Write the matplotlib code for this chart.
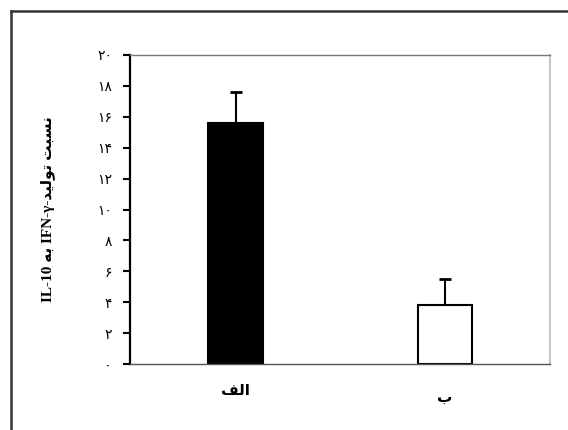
import matplotlib
matplotlib.use("Agg")
import matplotlib.pyplot as plt
from matplotlib.lines import Line2D

# ---- data ----
categories = ["\uFED2\uFEDF\uFE8D", "\uFE8F"]          # الف , ب  (visual order, presentation forms)
values = [15.6, 3.8]
errors = [2.0, 1.7]
yticks = [0, 2, 4, 6, 8, 10, 12, 14, 16, 18, 20]
persian_digits = "۰۱۲۳۴۵۶۷۸۹"
ytick_labels = ["".join(persian_digits[int(c)] for c in str(v)) for v in yticks]
ylabel = "IL-10 \uFEEA\uFE91 IFN-γ-\uFEAA\uFEF4\uFEDF\uFEEE\uFE97 \uFE96\uFE92\uFEB4\uFEE7"

fig = plt.figure(figsize=(5.68, 4.30), dpi=100)
ax = fig.add_axes([130/568, 1-364/430, 420/568, 309/430])

x = list(range(len(categories)))
face = ["black", "white"]
ax.bar(x, values, width=0.26, color=face, edgecolor="black", linewidth=1.5, zorder=2)
ax.errorbar(x, values, yerr=[[0, 0], errors], fmt="none", ecolor="black",
            elinewidth=1.5, capsize=4.5, capthick=2, zorder=1)

ax.set_xlim(-0.505, 1.502)
ax.set_ylim(0, 20)
ax.set_yticks(yticks)
ax.set_yticklabels(ytick_labels, family=["DejaVu Sans"], fontsize=10)
ax.set_xticks(x)
ax.set_xticklabels(categories, family=["DejaVu Sans"], fontsize=11, fontweight="bold")
ax.tick_params(axis="x", length=0, pad=14)
ax.tick_params(axis="y", length=5, width=1.5, direction="out", pad=8)

# second category label sits a bit lower in the reference
ax.get_xticklabels()[1].set_y(-0.02)

ax.spines["left"].set_linewidth(1.6)
ax.spines["left"].set_color("black")
ax.spines["bottom"].set_color("#555555")
ax.spines["bottom"].set_linewidth(1.0)
ax.spines["top"].set_color("#777777")
ax.spines["top"].set_linewidth(1.0)
ax.spines["right"].set_color("#bbbbbb")
ax.spines["right"].set_linewidth(1.2)

ax.set_ylabel(ylabel, family=["Liberation Serif", "DejaVu Sans"], fontsize=11,
              fontweight="bold", labelpad=30)

# outer frame (left and top edges visible)
fig.add_artist(Line2D([11/568, 11/568], [0, 1-11/430], color="#333333", linewidth=1.8,
                      transform=fig.transFigure))
fig.add_artist(Line2D([11/568, 1], [1-11/430, 1-11/430], color="#333333", linewidth=1.8,
                      transform=fig.transFigure))

fig.savefig("out.png", dpi=100)
